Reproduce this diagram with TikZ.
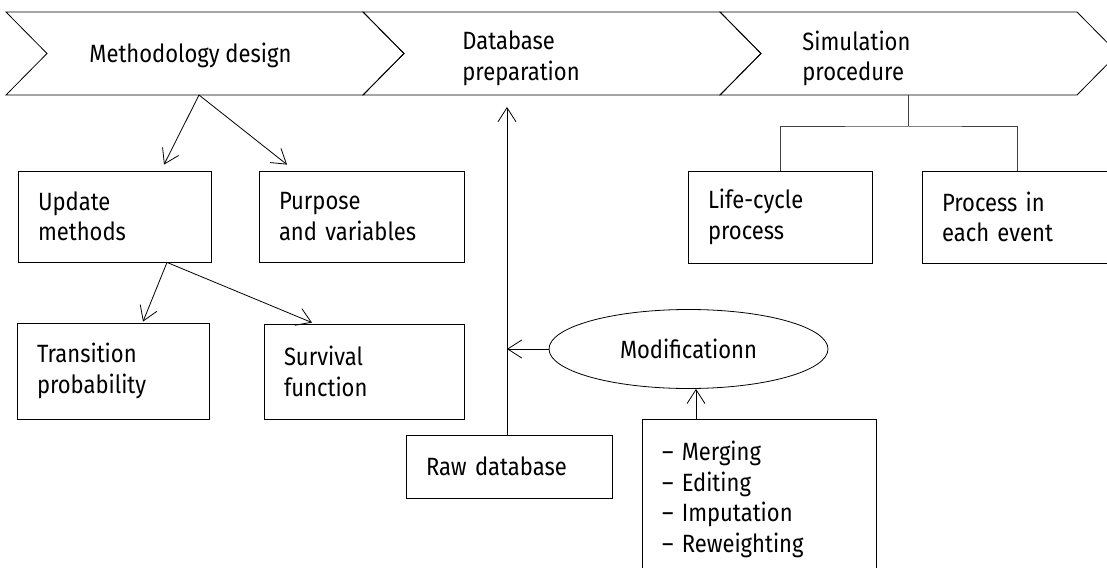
\documentclass[tikz,border=0pt]{standalone}
\usepackage{fontspec}
\setmainfont{Fira Sans}[FakeStretch=0.88]
\usetikzlibrary{positioning,calc,arrows.meta,shapes.geometric}
\tikzstyle{box}       = [draw, rectangle, align=left, inner xsep=20pt, inner ysep=0pt]
\tikzstyle{phaseText} = [inner sep=0pt, align=left, anchor=west]
\tikzstyle{flow}      = [->]
\tikzstyle{tree}      = [draw=black!75]
\tikzset{
  x=1pt, y=-1pt,
  every node/.style={font=\fontsize{25}{30.5}\selectfont},
  >={Straight Barb[length=14pt,width=18pt]},
  phase/.style={draw},
  oval/.style={ellipse, draw, inner sep=0pt, minimum width=279pt, minimum height=79pt}
}
\begin{document}
\begin{tikzpicture}[line width=0.8pt]
			\useasboundingbox (0,0) rectangle (1107,567);
			% phases
			\foreach \x in {6,363,720}
				\draw[phase] (\x,12) -- ++(357,0) -- ++(41,41.5) -- ++(-41,41.5) -- ++(-357,0) -- ++(41,-41.5) -- cycle;
			\node[phaseText, anchor=base west] (meth) at (89,63)   {Methodology design};
			\node[phaseText]                   (db)   at (462,58.5) {Database\\preparation};
			\node[phaseText]                   (sim)  at (802,58.5) {Simulation\\procedure};
			\coordinate (methbot) at (199,95);
			\coordinate (simbot)  at (908,95);
			\coordinate (fork)    at (908,126);
			\coordinate (dbtip)   at (507,107);
			% methodology
			\node[box, text width=153pt, minimum height=91pt] (upd)   at (114.5,216.5) {Update\\methods};
			\node[box, text width=165pt, minimum height=91pt] (purp)  at (361.5,216.5) {Purpose\\and variables};
			\node[box, text width=152pt, minimum height=96pt] (trans) at (113,371)     {Transition\\probability};
			\node[box, text width=160pt, minimum height=95pt] (surv)  at (364,371.5)   {Survival\\function};
			\coordinate (updbot) at ([xshift=52.5pt]upd.south);
			\draw[flow] (methbot) -- ([xshift=49.5pt,yshift=6pt]upd.north);
			\draw[flow] (methbot) -- ([xshift=-74.5pt,yshift=6pt]purp.north);
			\draw[flow] (updbot)  -- ([xshift=30pt,yshift=1pt]trans.north);
			\draw[flow] (updbot)  -- ([xshift=-52pt,yshift=1pt]surv.north);
			% database
			\node[box, text width=166pt, minimum height=63pt]  (raw)  at (509,466.5) {Raw database};
			\node[oval]                                        (mod)  at (688.5,349) {Modificationn};
			\node[box, text width=194pt, minimum height=161pt] (mods) at (759,499.5) {-- Merging\\-- Editing\\-- Imputation\\-- Reweighting};
			\coordinate (modin) at ([xshift=7.5pt]mod.south);
			\draw[flow] (raw.north -| dbtip) -- (dbtip);
			\draw[flow] (mod.west) -- (mod.west -| dbtip);
			\draw[flow] (modin |- mods.north) -- (modin);
			% simulation
			\node[box, text width=144pt, minimum height=92pt] (life) at (780,217)  {Life-cycle\\process};
			\node[box, text width=150pt, minimum height=92pt] (proc) at (1017,217) {Process in\\each event};
			\draw[tree] (simbot) -- (fork);
			\draw[tree] (life.north) |- (fork) -| (proc.north);
		\end{tikzpicture}
\end{document}
